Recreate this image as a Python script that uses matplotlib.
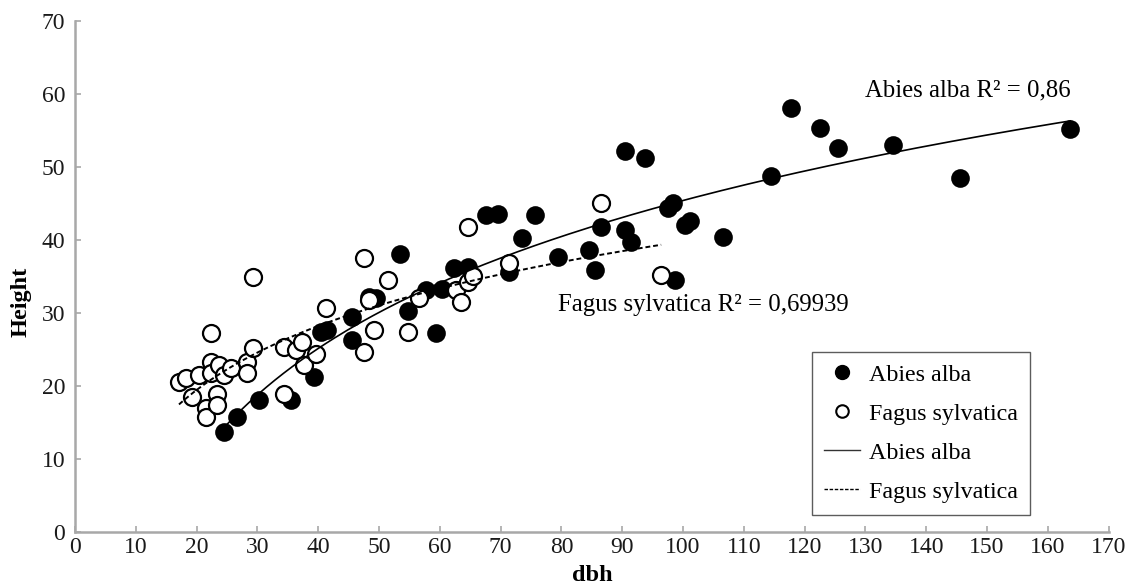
import numpy as np
import matplotlib
matplotlib.use("Agg")
import matplotlib.pyplot as plt
from matplotlib.lines import Line2D

plt.rcParams['font.family'] = ['Liberation Serif', 'DejaVu Serif']

# Abies alba (filled)
abies_dbh = [24.5, 26.7, 30.3, 35.5, 39.3, 40.4, 41.5, 45.5, 45.5, 48.4, 49.5, 53.4,
             54.7, 57.7, 59.4, 60.3, 62.4, 64.6, 67.6, 69.5, 71.4, 73.5, 75.6, 79.4,
             84.6, 85.6, 86.5, 90.4, 91.5, 90.4, 93.7, 97.5, 98.4, 98.6, 100.3, 101.1,
             106.6, 114.5, 117.8, 122.5, 125.5, 134.6, 145.6, 163.7]
abies_height = [13.6, 15.7, 18.0, 18.0, 21.2, 27.4, 27.6, 29.4, 26.3, 32.2, 32.0, 38.1,
                30.2, 33.1, 27.2, 33.2, 36.1, 36.3, 43.4, 43.5, 35.6, 40.3, 43.4, 37.6,
                38.6, 35.9, 41.8, 41.3, 39.7, 52.1, 51.2, 44.3, 45.0, 34.5, 42.0, 42.5,
                40.4, 48.7, 58.1, 55.3, 52.6, 53.0, 48.4, 55.1]

# Fagus sylvatica (open)
fagus_dbh = [17.1, 18.2, 19.3, 20.4, 21.5, 21.5, 22.3, 22.3, 22.3, 23.4, 23.4, 23.7,
             24.5, 25.6, 28.3, 28.3, 29.2, 29.2, 34.4, 34.4, 36.3, 37.4, 37.7, 39.6,
             41.2, 47.5, 47.5, 48.4, 49.2, 51.4, 54.7, 56.6, 62.6, 63.5, 64.6, 65.4,
             64.6, 71.4, 86.5, 96.4]
fagus_height = [20.5, 21.0, 18.4, 21.4, 16.9, 15.7, 27.2, 23.3, 21.7, 18.9, 17.3, 22.8,
                21.4, 22.4, 23.3, 21.7, 25.1, 34.9, 25.3, 18.9, 24.9, 26.0, 22.8, 24.4,
                30.6, 37.5, 24.6, 31.7, 27.6, 34.5, 27.4, 32.0, 33.1, 31.5, 34.2, 35.0,
                41.8, 36.8, 45.0, 35.2]

x_ticks = list(range(0, 171, 10))
y_ticks = list(range(0, 71, 10))

W, H = 1129, 587
fig = plt.figure(figsize=(W / 100, H / 100), dpi=100)
ax = fig.add_axes([75 / W, 1 - 531.7 / H, (1108.7 - 75) / W, (531.7 - 20.7) / H])

# log trend lines from the data
def logfit(x, y):
    x = np.asarray(x); y = np.asarray(y)
    a, b = np.polyfit(np.log(x), y, 1)
    xs = np.linspace(x.min(), x.max(), 200)
    return xs, a * np.log(xs) + b

msize = 150
ax.scatter(abies_dbh, abies_height, s=msize, facecolor='black', edgecolor='black',
           linewidths=1.2, zorder=3)
ax.scatter(fagus_dbh, fagus_height, s=msize, facecolor='white', edgecolor='black',
           linewidths=1.6, zorder=4)

xa, ya = logfit(abies_dbh, abies_height)
xf, yf = logfit(fagus_dbh, fagus_height)
ax.plot(xa, ya, color='black', lw=1.2, zorder=5)
ax.plot(xf, yf, color='black', lw=1.4, ls=(0, (2.5, 1.5)), zorder=5)

ax.set_xlim(0, 170)
ax.set_ylim(0, 70)
ax.set_xticks(x_ticks)
ax.set_yticks(y_ticks)
for s in ['top', 'right']:
    ax.spines[s].set_visible(False)
for s in ['left', 'bottom']:
    ax.spines[s].set_color('#a8a8a8')
    ax.spines[s].set_linewidth(1.8)
ax.tick_params(axis='both', direction='in', length=4, width=1.2, color='#a8a8a8',
               labelsize=17, labelcolor='#1a1a1a')
ax.tick_params(axis='x', pad=4)
ax.tick_params(axis='y', pad=7)

ax.set_xlabel('dbh', fontsize=17.5, fontweight='bold', labelpad=5)
ax.set_ylabel('Height', fontsize=17.5, fontweight='bold', labelpad=6)
ax.yaxis.set_label_coords(-0.042, 0.45)

ax.text(163.8, 60.4, 'Abies alba R² = 0,86', fontsize=17.8, ha='right', va='center')
ax.text(79.5, 31.0, 'Fagus sylvatica R² = 0,69939', fontsize=17.8, ha='left', va='center')

handles = [
    Line2D([], [], ls='none', marker='o', markersize=10, markerfacecolor='black',
           markeredgecolor='black'),
    Line2D([], [], ls='none', marker='o', markersize=9, markerfacecolor='white',
           markeredgecolor='black', markeredgewidth=1.5),
    Line2D([], [], color='#333333', lw=1.0),
    Line2D([], [], color='black', lw=1.0, ls=(0, (2.5, 1.2))),
]
labels = ['Abies alba', 'Fagus sylvatica', 'Abies alba', 'Fagus sylvatica']
leg = ax.legend(handles, labels, loc='upper left',
                bbox_to_anchor=((811.7 - 75) / (1108.7 - 75), (531.7 - 351.7) / (531.7 - 20.7)),
                frameon=True, fancybox=False, edgecolor='#333333', fontsize=17.3,
                handlelength=1.5, handletextpad=0.4, labelspacing=0.72,
                borderpad=0.5, borderaxespad=0)
leg.get_frame().set_linewidth(1.0)

fig.savefig('out.png', dpi=100)
